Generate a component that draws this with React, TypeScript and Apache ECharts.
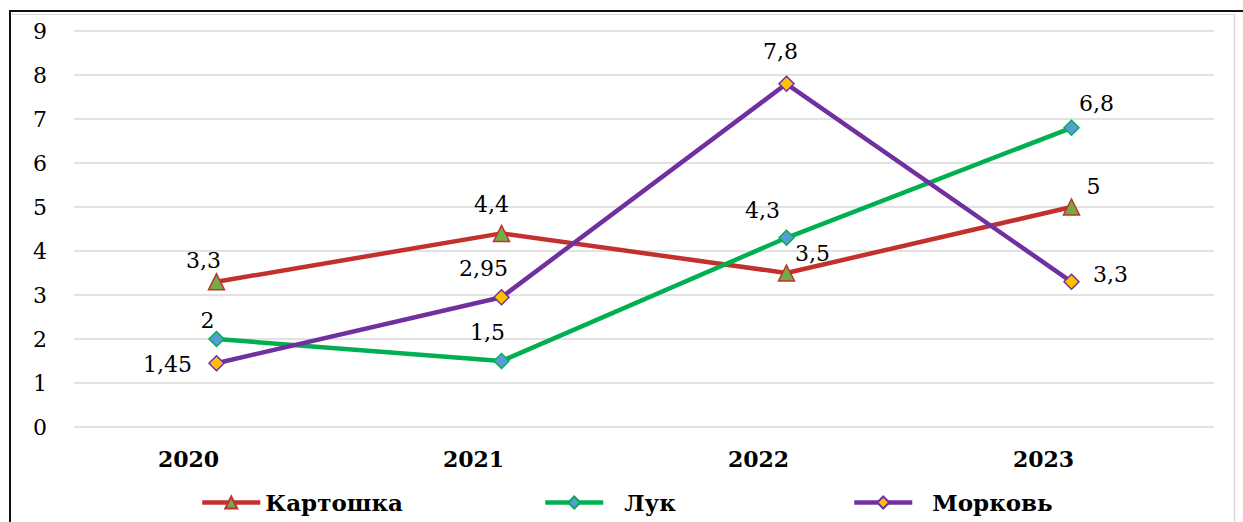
import React, { useEffect, useRef } from "react";
import * as echarts from "echarts";

const years = ["2020", "2021", "2022", "2023"];
const potato = [3.3, 4.4, 3.5, 5];
const onion = [2, 1.5, 4.3, 6.8];
const carrot = [1.45, 2.95, 7.8, 3.3];
const seriesNames = ["Картошка", "Лук", "Морковь"];

const potatoOffsets = [[-13, -21], [-10, -29], [26, -20], [22, -21]];
const onionOffsets = [[-9, -19], [-14, -29], [-24, -27], [25, -24]];
const carrotOffsets = [[-49, 1], [-18, -29], [-6, -32], [39, -7]];

const SERIF = "DejaVu Serif";

function fmt(v: number) {
  return String(v).replace(".", ",");
}

function buildData(vals: number[], offs: number[][]) {
  return vals.map((v, i) => ({
    value: v,
    label: { offset: offs[i] },
  }));
}

export default function App() {
  const ref = useRef<HTMLDivElement>(null);
  useEffect(() => {
    if (!ref.current) return;
    const chart = echarts.init(ref.current, null, { renderer: "svg" });
    const label = {
      show: true,
      position: "inside",
      align: "center",
      verticalAlign: "middle",
      fontFamily: SERIF,
      fontSize: 22,
      color: "#000",
      formatter: (p: any) => fmt(p.value),
    };
    const mk = (
      name: string,
      vals: number[],
      offs: number[][],
      lineColor: string,
      fill: string,
      symbol: string,
      size: number
    ) => ({
      name,
      type: "line",
      data: buildData(vals, offs),
      symbol,
      symbolSize: size,
      showAllSymbol: true,
      lineStyle: { color: lineColor, width: 4.5 },
      itemStyle: { color: fill, borderColor: lineColor, borderWidth: 1.5 },
      label,
      emphasis: { disabled: true },
      z: 3,
    });
    const legendText = (padLeft: number) => ({
      fontFamily: SERIF,
      fontSize: 23,
      fontWeight: "bold",
      color: "#000",
      padding: [0, 0, 0, padLeft],
    });
    const legendBase = {
      top: 486,
      itemWidth: 58,
      itemHeight: 15,
      lineStyle: { width: 4.5 },
      selectedMode: false,
    };
    chart.setOption({
      animation: false,
      textStyle: { fontFamily: SERIF },
      grid: { left: 74, right: 29, top: 31, bottom: 95 },
      legend: [
        { ...legendBase, left: 195, data: [seriesNames[0]], textStyle: legendText(0) },
        { ...legendBase, left: 538, data: [seriesNames[1]], textStyle: legendText(16) },
        { ...legendBase, left: 847, data: [seriesNames[2]], textStyle: legendText(15) },
      ],
      xAxis: {
        type: "category",
        data: years,
        boundaryGap: true,
        axisLine: { show: false },
        axisTick: { show: false },
        axisLabel: {
          margin: 21,
          fontFamily: SERIF,
          fontSize: 22,
          fontWeight: "bold",
          color: "#000",
          padding: [0, 56, 0, 0],
        },
      },
      yAxis: {
        type: "value",
        min: 0,
        max: 9,
        interval: 1,
        axisLine: { show: false },
        axisTick: { show: false },
        axisLabel: { margin: 27, fontFamily: SERIF, fontSize: 22, color: "#000" },
        splitLine: { lineStyle: { color: "#d9d9d9", width: 1.5 } },
      },
      graphic: [
        { type: "line", shape: { x1: 10, y1: 11, x2: 10, y2: 522 }, style: { stroke: "#111", lineWidth: 2 } },
        { type: "line", shape: { x1: 9, y1: 11, x2: 1243, y2: 11 }, style: { stroke: "#111", lineWidth: 2 } },
        { type: "line", shape: { x1: 12, y1: 14.5, x2: 1234, y2: 14.5 }, style: { stroke: "#d9d9d9", lineWidth: 1 } },
        { type: "line", shape: { x1: 1234.5, y1: 14, x2: 1234.5, y2: 522 }, style: { stroke: "#d9d9d9", lineWidth: 1.5 } },
      ],
      series: [
        mk(seriesNames[0], potato, potatoOffsets, "#C3312E", "#70AD47", "triangle", 16),
        mk(seriesNames[1], onion, onionOffsets, "#00B050", "#5B9BD5", "diamond", 15),
        mk(seriesNames[2], carrot, carrotOffsets, "#7030A0", "#FFC000", "diamond", 15),
      ],
    });
    return () => chart.dispose();
  }, []);
  return (
    <div
      ref={ref}
      style={{ position: "fixed", left: 0, top: 0, width: 1243, height: 522, background: "#fff" }}
    />
  );
}
